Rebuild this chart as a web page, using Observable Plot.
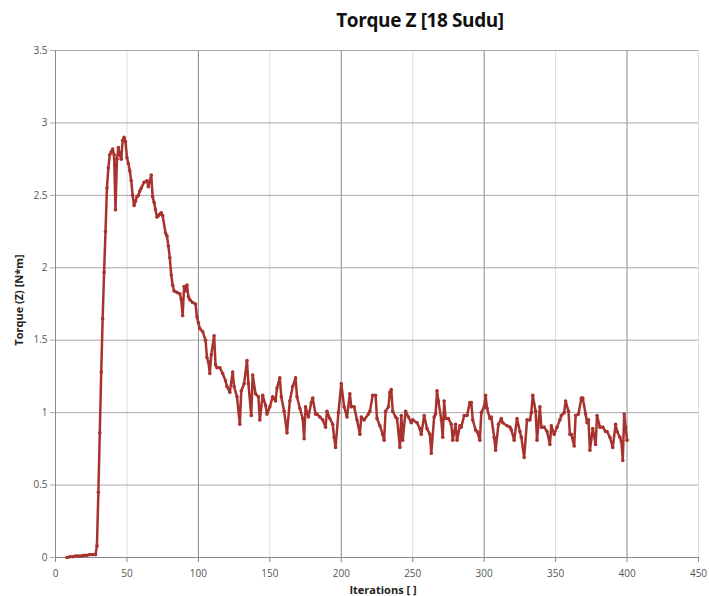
<!DOCTYPE html>
<html>
<head>
<meta charset="utf-8">
<script src="https://cdn.jsdelivr.net/npm/d3@7"></script>
<script src="https://cdn.jsdelivr.net/npm/@observablehq/plot@0.6"></script>
<style>
  html, body { margin: 0; padding: 0; background: #fff; }
  #wrap { position: relative; width: 709px; height: 596px; font-family: "Open Sans", "Liberation Sans", sans-serif; }
  #title { position: absolute; left: 0; width: 840px; top: 7px; text-align: center; font-weight: bold; font-size: 19px; color: #111; letter-spacing: -0.4px; }
  #ylab { position: absolute; left: 18px; top: 300px; transform: translate(-50%, -50%) rotate(-90deg); font-weight: bold; font-size: 11px; color: #222; white-space: nowrap; }
  #xlab { position: absolute; left: 383px; top: 582px; transform: translateX(-50%); font-weight: bold; font-size: 11px; color: #222; white-space: nowrap; }
</style>
</head>
<body>
<div id="wrap">
  <div id="chart"></div>
  <div id="title">Torque Z [18 Sudu]</div>
  <div id="ylab">Torque (Z) [N*m]</div>
  <div id="xlab">Iterations [ ]</div>
</div>
<script>
const iterations = [8,10,12,14,16,18,20,22,24,26,28,29,30,31,32,33,34,35,36,37,38,39,40,41,42,43,44,45,46,47,48,49,50,51,52,53,54,55,56,57,58,59,60,62,64,65,67,68,69,70,71,72,73,74,75,77,78,79,80,81,82,83,85,87,88,89,90,91,92,93,94,96,98,99,100,101,103,105,106,107,108,109,111,112,113,115,117,119,120,122,124,125,127,129,130,132,134,135,137,138,140,142,143,145,147,148,150,152,154,155,157,158,160,162,164,166,168,169,171,173,174,175,177,179,180,182,183,185,187,189,190,192,194,195,196,198,200,202,204,206,207,209,211,213,214,216,219,220,222,224,225,227,229,230,231,233,234,235,236,238,239,241,242,243,245,247,249,250,253,255,256,258,260,262,263,265,266,267,268,270,271,272,273,275,277,278,280,281,283,284,286,288,290,291,292,294,295,297,298,300,301,302,304,305,307,308,310,312,313,316,318,319,321,323,325,326,328,330,332,333,334,336,337,339,340,342,344,346,347,349,351,353,354,356,357,359,360,361,363,364,366,368,369,371,372,373,374,376,378,379,381,383,385,386,388,390,392,393,395,396,397,398,399,400];
const torque = [0.00,0.005,0.005,0.01,0.01,0.01,0.015,0.015,0.02,0.02,0.02,0.08,0.45,0.86,1.28,1.65,1.97,2.25,2.55,2.69,2.78,2.80,2.82,2.78,2.40,2.75,2.83,2.78,2.75,2.88,2.90,2.87,2.76,2.72,2.67,2.60,2.50,2.43,2.46,2.49,2.50,2.53,2.55,2.59,2.60,2.56,2.64,2.49,2.45,2.40,2.35,2.36,2.37,2.38,2.36,2.24,2.22,2.15,2.07,1.95,1.88,1.84,1.83,1.82,1.78,1.67,1.87,1.84,1.88,1.80,1.78,1.76,1.75,1.66,1.62,1.58,1.56,1.50,1.38,1.35,1.27,1.40,1.53,1.33,1.31,1.31,1.27,1.22,1.18,1.14,1.28,1.18,1.11,0.92,1.15,1.20,1.36,1.20,0.98,1.26,1.13,1.11,0.95,1.12,1.05,0.99,1.04,1.11,1.08,1.17,1.24,1.11,1.01,0.86,1.08,1.18,1.24,1.11,1.03,0.96,0.82,1.04,0.97,1.07,1.10,0.99,0.99,0.97,0.95,0.90,1.01,0.96,0.92,0.83,0.76,1.00,1.20,1.04,0.97,1.13,1.04,1.04,0.95,0.85,0.97,0.95,0.99,1.01,1.12,1.12,0.96,0.91,0.85,0.81,1.01,1.04,1.14,1.16,1.01,0.97,0.96,0.76,0.98,0.81,1.01,0.97,0.93,0.95,0.93,0.89,0.85,0.98,0.89,0.85,0.72,0.97,0.99,1.15,1.08,0.95,0.83,1.08,0.96,0.96,0.92,0.81,0.92,0.81,0.91,0.90,0.98,0.98,1.07,1.07,0.95,0.88,0.87,0.81,1.00,1.04,1.12,1.03,0.96,0.97,0.83,0.74,0.92,0.96,0.93,0.91,0.90,0.88,0.81,0.96,0.87,0.83,0.69,0.95,0.95,1.00,1.12,1.01,0.81,1.04,0.90,0.90,0.87,0.78,0.91,0.85,0.90,0.95,0.98,1.00,1.08,1.01,0.85,0.85,0.77,0.98,0.99,1.10,1.10,0.99,0.93,0.95,0.74,0.89,0.78,0.98,0.90,0.90,0.87,0.87,0.83,0.76,0.92,0.87,0.83,0.80,0.67,0.99,0.90,0.81];
const xTicks = [0,50,100,150,200,250,300,350,400,450];
const xMajor = [100,200,300,400];
const xMinor = [50,150,250,350,450];
const yTicks = [0,0.5,1,1.5,2,2.5,3,3.5];

const data = iterations.map((it, i) => ({it, tq: torque[i]}));
const col = "#a8332e";

const chart = Plot.plot({
  width: 709,
  height: 596,
  marginLeft: 55,
  marginRight: 11,
  marginTop: 50,
  marginBottom: 39,
  x: {domain: [0, 450]},
  y: {domain: [0, 3.5]},
  style: {fontFamily: "'Open Sans', 'Liberation Sans', sans-serif", fontSize: "10px", color: "#555", background: "#fff"},
  marks: [
    Plot.ruleX(xMinor, {stroke: "#dcdcdc", strokeWidth: 1}),
    Plot.ruleX(xMajor, {stroke: "#8a8a8a", strokeWidth: 1}),
    Plot.ruleY(yTicks.filter(d => d > 0), {stroke: "#a8a8a8", strokeWidth: 1}),
    Plot.ruleX([0], {stroke: "#8a8a8a"}),
    Plot.ruleY([0], {stroke: "#8a8a8a"}),
    Plot.axisX({ticks: xTicks, tickSize: 5, tickPadding: 7, label: null, stroke: "#8a8a8a", tickFormat: d => String(d)}),
    Plot.axisY({ticks: yTicks, tickSize: 5, tickPadding: 3, label: null, stroke: "#a8a8a8", tickFormat: d => String(d)}),
    Plot.line(data, {x: "it", y: "tq", stroke: col, strokeWidth: 2.5}),
    Plot.dot(data, {x: "it", y: "tq", r: 1.8, fill: col, stroke: "none"})
  ]
});
document.getElementById("chart").appendChild(chart);
</script>
</body>
</html>
